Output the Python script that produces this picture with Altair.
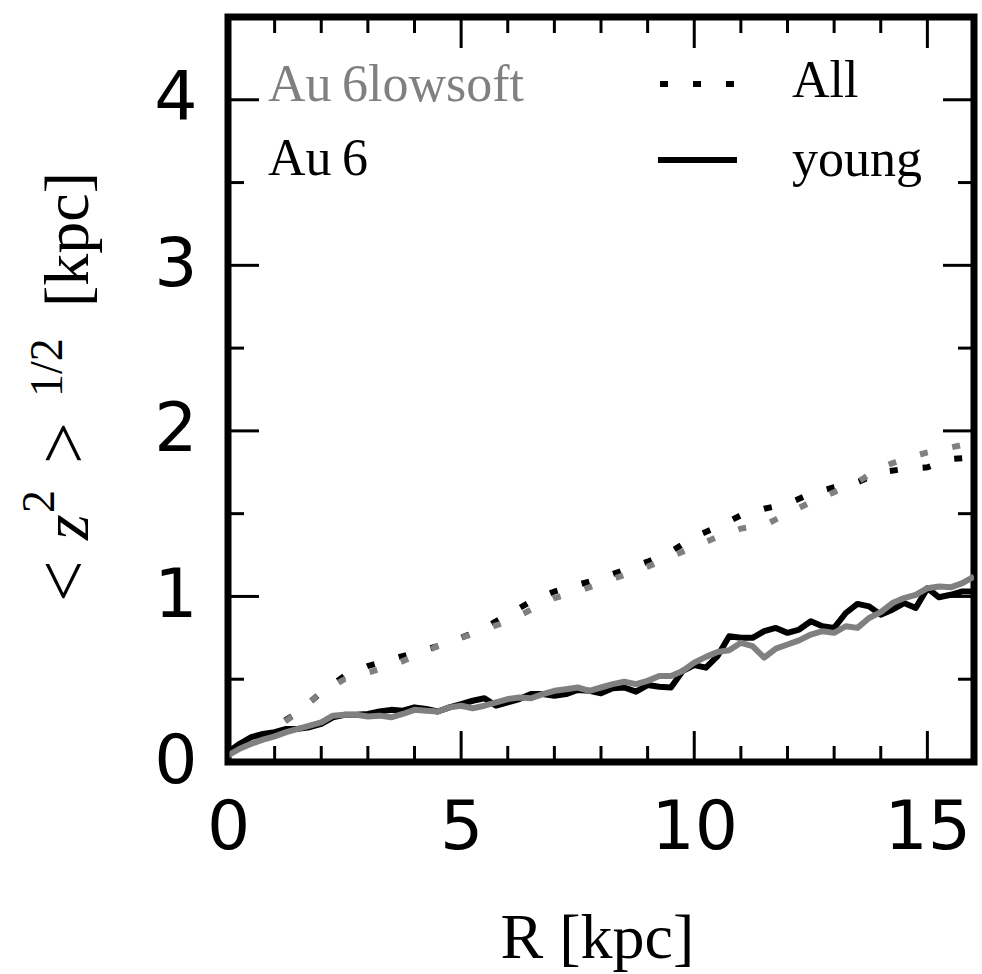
import altair as alt
import pandas as pd

# ---------------- data ----------------
R_ALL = [0.0, 0.5, 1.0, 1.5, 2.0, 2.5, 3.0, 3.5, 4.0, 4.5, 5.0, 5.5, 6.0, 6.5, 7.0, 7.5,
         8.0, 8.5, 9.0, 9.5, 10.0, 10.5, 11.0, 11.5, 12.0, 12.5, 13.0, 13.5, 14.0, 14.5,
         15.0, 15.5, 16.0]
Z_ALL_AU6 = [0.05, 0.12, 0.21, 0.30, 0.42, 0.52, 0.58, 0.62, 0.66, 0.70, 0.75, 0.81, 0.89,
             0.97, 1.03, 1.07, 1.11, 1.16, 1.21, 1.27, 1.36, 1.42, 1.49, 1.53, 1.56, 1.62,
             1.66, 1.69, 1.75, 1.77, 1.78, 1.83, 1.84]
Z_ALL_LOWSOFT = [0.05, 0.11, 0.20, 0.30, 0.42, 0.50, 0.54, 0.58, 0.64, 0.70, 0.75, 0.80, 0.85,
                 0.92, 0.99, 1.03, 1.08, 1.13, 1.18, 1.24, 1.30, 1.36, 1.41, 1.43, 1.50, 1.57,
                 1.63, 1.69, 1.78, 1.83, 1.87, 1.90, 1.93]

R_YOUNG = [0.0, 0.25, 0.5, 0.75, 1.0, 1.25, 1.5, 1.75, 2.0, 2.25, 2.5, 2.75, 3.0, 3.25, 3.5,
           3.75, 4.0, 4.25, 4.5, 4.75, 5.0, 5.25, 5.5, 5.75, 6.0, 6.25, 6.5, 6.75, 7.0, 7.25,
           7.5, 7.75, 8.0, 8.25, 8.5, 8.75, 9.0, 9.25, 9.5, 9.75, 10.0, 10.25, 10.5, 10.75,
           11.0, 11.25, 11.5, 11.75, 12.0, 12.25, 12.5, 12.75, 13.0, 13.25, 13.5, 13.75, 14.0,
           14.25, 14.5, 14.75, 15.0, 15.25, 15.5, 15.75, 16.0]
Z_YOUNG_AU6 = [0.06, 0.11, 0.15, 0.17, 0.18, 0.20, 0.20, 0.21, 0.23, 0.27, 0.285, 0.285, 0.29,
               0.305, 0.315, 0.31, 0.33, 0.32, 0.305, 0.33, 0.35, 0.37, 0.385, 0.34, 0.36,
               0.38, 0.41, 0.41, 0.40, 0.41, 0.435, 0.43, 0.415, 0.445, 0.45, 0.425, 0.465,
               0.455, 0.45, 0.55, 0.585, 0.57, 0.64, 0.76, 0.75, 0.75, 0.79, 0.81, 0.78, 0.80,
               0.85, 0.82, 0.81, 0.90, 0.955, 0.94, 0.89, 0.92, 0.96, 0.93, 1.05, 0.995, 1.01,
               1.03, 1.03]
Z_YOUNG_LOWSOFT = [0.04, 0.08, 0.11, 0.135, 0.155, 0.18, 0.20, 0.22, 0.24, 0.28, 0.285, 0.285,
                   0.275, 0.28, 0.27, 0.29, 0.315, 0.31, 0.305, 0.33, 0.34, 0.325, 0.34, 0.36,
                   0.38, 0.39, 0.385, 0.41, 0.43, 0.44, 0.45, 0.43, 0.45, 0.47, 0.485, 0.47,
                   0.49, 0.52, 0.52, 0.55, 0.60, 0.635, 0.665, 0.675, 0.72, 0.70, 0.63, 0.685,
                   0.71, 0.735, 0.77, 0.79, 0.78, 0.82, 0.81, 0.87, 0.905, 0.96, 0.99, 1.01,
                   1.05, 1.06, 1.055, 1.08, 1.12]

X_TICK_LABELS = [0, 5, 10, 15]
Y_TICK_LABELS = [0, 1, 2, 3, 4]
X_MAJOR = [0, 5, 10, 15]
X_MINOR = [1, 2, 3, 4, 6, 7, 8, 9, 11, 12, 13, 14, 16]
Y_MAJOR = [0, 1, 2, 3, 4]
Y_MINOR = [0.5, 1.5, 2.5, 3.5, 4.5]

GRAY = "#808080"
SERIF = "Liberation Serif"
W, H = 746, 745

xs = alt.Scale(domain=[0, 16], nice=False, zero=False)
ys = alt.Scale(domain=[0, 4.5], nice=False, zero=False)

df_all_au6 = pd.DataFrame({"r": R_ALL, "z": Z_ALL_AU6})
df_all_low = pd.DataFrame({"r": R_ALL, "z": Z_ALL_LOWSOFT})
df_y_au6 = pd.DataFrame({"r": R_YOUNG, "z": Z_YOUNG_AU6})
df_y_low = pd.DataFrame({"r": R_YOUNG, "z": Z_YOUNG_LOWSOFT})

xaxis = alt.Axis(values=X_TICK_LABELS, domain=False, ticks=False, tickSize=0, grid=False,
                 labelFont="DejaVu Sans", labelFontSize=68, labelPadding=32, labelColor="black",
                 labelFlush=False, labelOverlap=False,
                 title="R [kpc]", titleFont=SERIF, titleFontSize=64, titleFontWeight="normal",
                 titleColor="black", titleX=272, titleY=195, titleAlign="left",
                 titleBaseline="alphabetic", titleAngle=0)
yaxis = alt.Axis(values=Y_TICK_LABELS, domain=False, ticks=False, tickSize=0, grid=False,
                 labelFont="DejaVu Sans", labelFontSize=68, labelPadding=31, labelColor="black",
                 labelBaseline="middle", labelFlush=False, labelOverlap=False, title=None)

X = lambda f: alt.X(f, scale=xs, axis=xaxis)
Y = lambda f: alt.Y(f, scale=ys, axis=yaxis)


def line(df, color, dash=None, width=6):
    kw = dict(color=color, strokeWidth=width, clip=True)
    if dash:
        kw.update(strokeDash=dash, strokeCap="butt")
    else:
        kw.update(strokeJoin="round", strokeCap="butt")
    return alt.Chart(df).mark_line(**kw).encode(x=X("r:Q"), y=Y("z:Q"))


DOT = [8, 25]
layers = [
    line(df_all_au6, "black", DOT, 6),
    line(df_all_low, GRAY, DOT, 6),
    line(df_y_au6, "black"),
    line(df_y_low, GRAY),
]


# inward ticks on all four sides
def xticks(vals, length):
    d = pd.DataFrame({"t": vals})
    b = alt.Chart(d).mark_rule(color="black", strokeWidth=3).encode(
        x=X("t:Q"), y=alt.value(H), y2=alt.value(H - length))
    t = alt.Chart(d).mark_rule(color="black", strokeWidth=3).encode(
        x=X("t:Q"), y=alt.value(0), y2=alt.value(length))
    return [b, t]


def yticks(vals, length):
    d = pd.DataFrame({"t": vals})
    l = alt.Chart(d).mark_rule(color="black", strokeWidth=3).encode(
        y=Y("t:Q"), x=alt.value(0), x2=alt.value(length))
    r = alt.Chart(d).mark_rule(color="black", strokeWidth=3).encode(
        y=Y("t:Q"), x=alt.value(W), x2=alt.value(W - length))
    return [l, r]


layers += xticks(X_MAJOR, 31) + xticks(X_MINOR, 16) + yticks(Y_MAJOR, 31) + yticks(Y_MINOR, 16)

# legend block
legend_src = pd.DataFrame({"k": [0]})


def txt(s, x, y, size, color="black", angle=0, style="normal"):
    return alt.Chart(legend_src).mark_text(
        text=s, font=SERIF, fontSize=size, color=color, align="left",
        baseline="alphabetic", angle=angle, fontStyle=style,
    ).encode(x=alt.value(x), y=alt.value(y))


layers += [
    txt("Au\u20096lowsoft", 40, 84, 52, GRAY),
    txt("Au\u20096", 40, 158, 52),
    txt("All", 564, 80, 52),
    txt("young", 564, 159, 52),
    alt.Chart(legend_src).mark_rule(color="black", strokeWidth=6, strokeDash=DOT,
                                    strokeCap="butt").encode(
        x=alt.value(432), x2=alt.value(510), y=alt.value(67)),
    alt.Chart(legend_src).mark_rule(color="black", strokeWidth=6, strokeCap="butt").encode(
        x=alt.value(430), x2=alt.value(509), y=alt.value(143)),
]

# y-axis title  <z^2>^{1/2} [kpc]  rotated
layers += [
    txt("<", -140, 585, 74, angle=270),
    txt("z", -140, 523, 66, angle=270, style="italic"),
    txt("2", -174, 496, 46, angle=270),
    txt(">", -140, 447, 74, angle=270),
    txt("1/2", -166, 380, 46, angle=270),
    txt("[kpc]", -140, 290, 64, angle=270),
]

chart = alt.layer(*layers).properties(
    width=W, height=H,
    background="white",
    autosize=alt.AutoSizeParams(type="none"),
    padding={"left": 228, "top": 17, "right": 8, "bottom": 212},
).configure_view(stroke="black", strokeWidth=7)

chart.save("out.html", embed_options={"renderer": "svg", "actions": False})
